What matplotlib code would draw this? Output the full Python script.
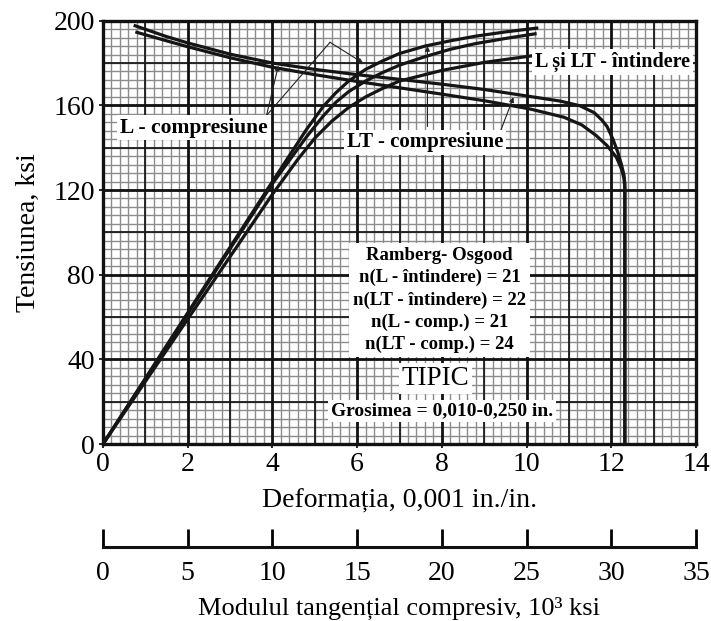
import numpy as np
import matplotlib
matplotlib.use("Agg")
import matplotlib.pyplot as plt

plt.rcParams['font.family'] = ['Liberation Serif', 'DejaVu Serif']

# ---- data ----
# stress-strain curves (strain in 0.001 in./in., stress in ksi)
strain_L_comp = [0, 4.0, 4.8, 5.2, 5.5, 5.8, 6.2, 6.6, 7.0, 7.6, 8.2, 8.8, 9.5, 10.24]
stress_L_comp = [0, 124, 148.5, 159.5, 166.0, 171.5, 177.0, 181.0, 184.5, 188.0, 190.5, 192.7, 194.7, 196.5]

strain_LT_comp = [0, 4.0, 4.8, 5.2, 5.5, 5.8, 6.2, 6.6, 7.0, 7.6, 8.2, 8.8, 9.5, 10.2]
stress_LT_comp = [0, 123, 145.0, 155.0, 161.5, 166.5, 171.5, 175.5, 179.0, 183.0, 186.5, 189.2, 191.6, 193.8]

strain_tension = [0, 4.0, 4.6, 5.0, 5.4, 5.8, 6.2, 6.6, 7.0, 8.0, 9.0, 10.16]
stress_tension = [0, 118, 134.5, 144.5, 152.5, 159.0, 164.0, 168.0, 171.5, 176.5, 180.3, 183.5]

# tangent modulus curves (modulus in 10^3 ksi, stress in ksi)
Et_1 = [1.9, 3.75, 5.0, 7.5, 10.0, 12.5, 15.0, 17.5, 20.0, 22.5, 25.2, 27.0, 28.15, 29.0,
        29.45, 29.75, 30.1, 30.4, 30.6, 30.75, 30.8, 30.8]
stress_Et_1 = [197.6, 192.5, 189.5, 184.2, 180.0, 177.0, 174.5, 172.3, 170.0, 167.5, 164.2, 162.0,
               159.8, 156.5, 153.0, 150.0, 144.0, 137.5, 132.0, 127.0, 123.0, 0]
Et_2 = [2.0, 3.75, 5.0, 7.5, 10.0, 12.5, 15.0, 17.5, 20.0, 22.5, 25.2, 27.2, 28.25, 29.1,
        29.75, 30.3, 30.6, 30.75, 30.8, 30.8]
stress_Et_2 = [194.5, 190.5, 187.7, 182.5, 178.0, 174.5, 171.3, 168.3, 165.3, 162.2, 158.3, 154.4,
               150.8, 145.8, 141.0, 135.5, 130.0, 125.5, 121.0, 0]

x_ticks = [0, 2, 4, 6, 8, 10, 12, 14]
y_ticks = [0, 40, 80, 120, 160, 200]
mod_ticks = [0, 5, 10, 15, 20, 25, 30, 35]

ro_text = ("Ramberg- Osgood\nn(L - întindere) = 21\nn(LT - întindere) = 22\n"
           "n(L - comp.) = 21\nn(LT - comp.) = 24")

# ---- figure ----
fig = plt.figure(figsize=(7.11, 6.21), dpi=100)
L, R = 103 / 711, 696 / 711
B, T = 1 - 444 / 621, 1 - 20.7 / 621
ax = fig.add_axes([L, B, R - L, T - B])
ax.set_xlim(0, 14)
ax.set_ylim(0, 200)

# graph-paper grid
for xv in np.arange(0, 14.01, 0.2):
    ax.axvline(xv, color='#8c8c8c', lw=1.0, zorder=1)
for yv in np.arange(0, 200.1, 4):
    ax.axhline(yv, color='#8c8c8c', lw=1.0, zorder=1)
for xv in np.arange(1, 14, 2):
    ax.axvline(xv, color='#1a1a1a', lw=1.3, zorder=1.5)
for yv in np.arange(20, 200, 40):
    ax.axhline(yv, color='#1a1a1a', lw=1.3, zorder=1.5)
for xv in np.arange(2, 14, 2):
    ax.axvline(xv, color='#111111', lw=2.0, zorder=1.6)
for yv in np.arange(40, 200, 40):
    ax.axhline(yv, color='#111111', lw=2.0, zorder=1.6)

for s in ax.spines.values():
    s.set_linewidth(2.4)
    s.set_color('#111111')

ax.set_xticks(x_ticks)
ax.set_yticks(y_ticks)
ax.tick_params(axis='both', length=3, width=1.2, labelsize=20, pad=3)
ax.set_xlabel("Deformația, 0,001 in./in.", fontsize=20, labelpad=8)
ax.set_ylabel("Tensiunea, ksi", fontsize=20, labelpad=9)

cw = 2.3
col = '#151515'
ax.plot(strain_L_comp, stress_L_comp, color=col, lw=cw, zorder=3, solid_joinstyle='round')
ax.plot(strain_LT_comp, stress_LT_comp, color=col, lw=cw, zorder=3, solid_joinstyle='round')
ax.plot(strain_tension, stress_tension, color=col, lw=cw, zorder=3, solid_joinstyle='round')

# tangent modulus curves on hidden twin x-axis (0..35)
axt = ax.twiny()
axt.set_xlim(0, 35)
axt.set_ylim(0, 200)
axt.axis('off')
axt.plot(Et_1, stress_Et_1, color=col, lw=cw, zorder=3, solid_joinstyle='round')
axt.plot(Et_2, stress_Et_2, color=col, lw=cw, zorder=3, solid_joinstyle='round')

box = dict(facecolor='white', edgecolor='none', pad=2)
tr = ax.transData
aprops = dict(arrowstyle='-|>', color='#222222', lw=0.8, mutation_scale=7, shrinkA=0, shrinkB=0)
lprops = dict(color='#222222', lw=0.8)

# leader lines
axt.annotate('', xy=(4.14, 178.8), xytext=(3.86, 155.2), xycoords=tr, textcoords=tr,
             arrowprops=aprops, zorder=4)
axt.plot([3.86, 5.36], [155.2, 189.8], transform=tr, zorder=4, **lprops)
axt.annotate('', xy=(6.14, 180.0), xytext=(5.36, 189.8), xycoords=tr, textcoords=tr,
             arrowprops=aprops, zorder=4)
axt.annotate('', xy=(7.66, 188.0), xytext=(7.66, 150.0), xycoords=tr, textcoords=tr,
             arrowprops=aprops, zorder=4)
axt.annotate('', xy=(9.69, 163.8), xytext=(9.33, 145.0), xycoords=tr, textcoords=tr,
             arrowprops=aprops, zorder=4)

axt.text(2.15, 149.5, "L - compresiune", transform=tr, fontsize=15.5, fontweight='bold',
         ha='center', va='center', bbox=box, zorder=5)
axt.text(7.6, 142.5, "LT - compresiune", transform=tr, fontsize=15, fontweight='bold',
         ha='center', va='center', bbox=box, zorder=5)
axt.text(12.03, 180.5, "L și LT - întindere", transform=tr, fontsize=14.5, fontweight='bold',
         ha='center', va='center', bbox=box, zorder=5)
axt.text(7.95, 68.0, ro_text, transform=tr, fontsize=13.5, fontweight='bold',
         ha='center', va='center', linespacing=1.38,
         bbox=dict(facecolor='white', edgecolor='none', pad=3), zorder=5)
axt.text(7.85, 31.0, "TIPIC", transform=tr, fontsize=19.5,
         ha='center', va='center', bbox=box, zorder=5)
axt.text(8.0, 15.5, "Grosimea = 0,010-0,250 in.", transform=tr, fontsize=14, fontweight='bold',
         ha='center', va='center', bbox=box, zorder=5)

# secondary modulus axis below
yb = 1 - 546.7 / 621
ax2 = fig.add_axes([L, yb, R - L, 0.05])
ax2.set_xlim(0, 35)
ax2.set_ylim(0, 1)
ax2.patch.set_visible(False)
for k in ('top', 'left', 'right'):
    ax2.spines[k].set_visible(False)
ax2.spines['bottom'].set_linewidth(2.2)
ax2.spines['bottom'].set_color('#111111')
ax2.set_yticks([])
ax2.set_xticks(mod_ticks)
ax2.tick_params(axis='x', direction='in', length=13, width=2.0, labelsize=20, pad=10)
ax2.set_xlabel("Modulul tangențial compresiv, 10³ ksi", fontsize=19, labelpad=8)

fig.savefig("out.png", dpi=100)
